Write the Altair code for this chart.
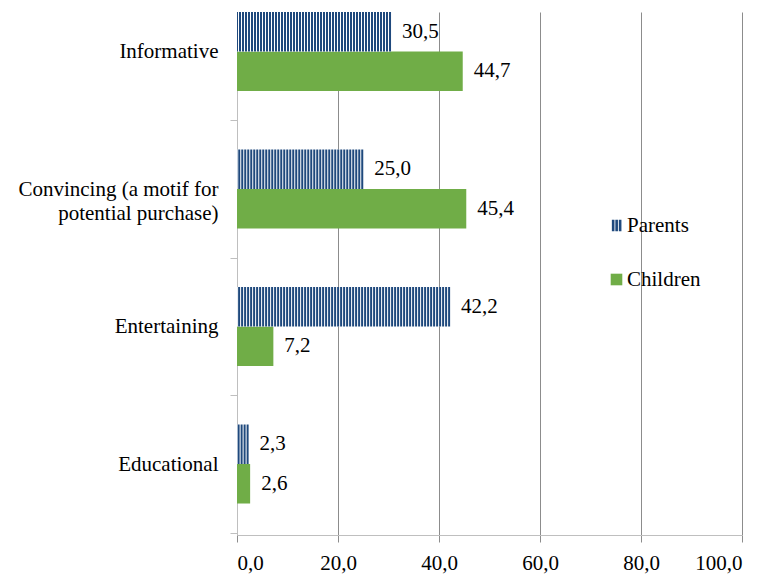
import altair as alt
import pandas as pd

# Survey shares (%) by type of advertising message
categories = [
    "Informative",
    "Convincing (a motif for potential purchase)",
    "Entertaining",
    "Educational",
]
series = ["Parents", "Children"]
parents = [30.5, 25.0, 42.2, 2.3]
children = [44.7, 45.4, 7.2, 2.6]
x_ticks = [0, 20, 40, 60, 80, 100]

rows = []
for cat, p, c in zip(categories, parents, children):
    rows.append({"category": cat, "series": "Parents", "value": p})
    rows.append({"category": cat, "series": "Children", "value": c})
df = pd.DataFrame(rows)
df["label"] = df["value"].map(lambda v: f"{v:.1f}".replace(".", ","))

W, H = 505, 523
FONT = "'Liberation Serif', 'Times New Roman', 'DejaVu Serif', serif"
NAVY = "#1F497D"
GREEN = "#70AD47"
GRID = "#8c8c8c"
AXIS = "#bfbfbf"
GAP_SHIFT = 29.25  # half the gap between category groups, in pixels
BAR_PX = 39.5      # thickness of one bar, in pixels

# Three vertical bars for the Parents legend symbol
BARS_SYMBOL = (
    "M-0.8,-1H-0.35V1H-0.8Z "
    "M-0.2,-1H0.25V1H-0.2Z "
    "M0.4,-1H0.85V1H0.4Z"
)

wrap_expr = (
    "datum.label === 'Convincing (a motif for potential purchase)' ? "
    "['Convincing (a motif for', 'potential purchase)\u00a0\u00a0\u00a0\u00a0'] : datum.label"
)


def y_enc():
    return alt.Y(
        "category:N",
        scale=alt.Scale(domain=categories, paddingInner=0.4255, paddingOuter=0.1145, align=0),
        axis=alt.Axis(
            title=None,
            grid=False,
            domainColor=AXIS,
            tickColor=AXIS,
            tickSize=7,
            bandPosition=1,
            tickOffset=GAP_SHIFT,
            labelOffset=-GAP_SHIFT,
            labelFont=FONT,
            labelFontSize=21,
            labelColor="black",
            labelPadding=12,
            labelLimit=0,
            labelLineHeight=24,
            labelExpr=wrap_expr,
        ),
    )


def yoff_enc():
    return alt.YOffset("series:N", scale=alt.Scale(domain=series, paddingInner=0, paddingOuter=0))


def x_enc():
    return alt.X(
        "value:Q",
        scale=alt.Scale(domain=[0, 100], nice=False),
        axis=alt.Axis(
            title=None,
            values=x_ticks,
            grid=True,
            gridColor=GRID,
            domainColor=AXIS,
            tickColor=GRID,
            tickSize=7,
            labelFont=FONT,
            labelFontSize=21,
            labelColor="black",
            labelPadding=10,
            labelExpr="replace(format(datum.value, '.1f'), '.', ',')",
        ),
    )


legend_spec = alt.Legend(
    title=None,
    orient="none",
    legendX=369,
    legendY=203,
    padding=0,
    symbolSize=135,
    symbolOpacity=1,
    symbolStrokeWidth=0,
    labelFont=FONT,
    labelFontSize=21,
    labelColor="black",
    labelOffset=0,
    rowPadding=32,
)

base = alt.Chart(df)
kids = base.transform_filter("datum.series === 'Children'")
adults = base.transform_filter("datum.series === 'Parents'")

# Children: solid green bars
green_bars = kids.mark_bar(color=GREEN).encode(x=x_enc(), y=y_enc(), yOffset=yoff_enc())

# Parents: white bar body, hatched with a dashed thick rule (vertical navy stripes)
white_bars = adults.mark_bar(color="white").encode(x=x_enc(), y=y_enc(), yOffset=yoff_enc())
hatch = adults.mark_rule(
    color=NAVY, strokeWidth=BAR_PX, strokeDash=[2, 1], strokeCap="butt"
).encode(x=x_enc(), x2=alt.datum(0), y=y_enc(), yOffset=yoff_enc())

# Value labels
labels = base.mark_text(
    align="left", baseline="middle", dx=11, font=FONT, fontSize=21, color="black"
).encode(x=x_enc(), y=y_enc(), yOffset=yoff_enc(), text="label:N")

# Transparent points that carry the legend
legend_points = base.mark_point(filled=True, opacity=0).encode(
    x=x_enc(),
    y=y_enc(),
    yOffset=yoff_enc(),
    color=alt.Color("series:N", scale=alt.Scale(domain=series, range=[NAVY, GREEN]), legend=legend_spec),
    shape=alt.Shape(
        "series:N",
        scale=alt.Scale(domain=series, range=[BARS_SYMBOL, "square"]),
        legend=legend_spec,
    ),
)

chart = (
    alt.layer(green_bars, white_bars, hatch, labels, legend_points)
    .properties(
        width=W,
        height=H,
        autosize=alt.AutoSizeParams(type="none"),
        padding={"left": 237, "top": 12, "right": 24, "bottom": 41},
        background="white",
    )
    .configure_view(stroke=None)
)

chart.save("out.html", embed_options={"renderer": "svg", "actions": False})
